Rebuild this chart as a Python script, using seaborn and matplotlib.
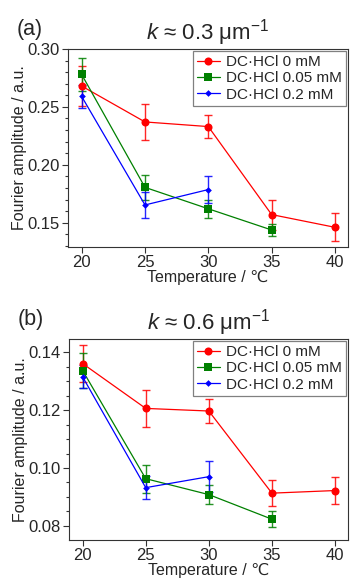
import numpy as np
import pandas as pd
import matplotlib
matplotlib.use("Agg")
import matplotlib.pyplot as plt
from matplotlib.ticker import MultipleLocator
import seaborn as sns

sns.set_style("ticks")
plt.rcParams['font.family'] = ['Liberation Sans', 'DejaVu Sans']
plt.rcParams['mathtext.fontset'] = 'custom'
plt.rcParams['mathtext.rm'] = 'Liberation Sans'
plt.rcParams['mathtext.it'] = 'Liberation Sans:italic'

temps = [20, 25, 30, 35, 40]
series_names = ["DC·HCl 0 mM", "DC·HCl 0.05 mM", "DC·HCl 0.2 mM"]

# panel (a) k ~ 0.3
a_0 = [0.268, 0.237, 0.233, 0.157, 0.146]
a_0_err = [0.0175, 0.0155, 0.0097, 0.013, 0.012]
a_005 = [0.278, 0.1805, 0.162, 0.1437]
a_005_err = [0.014, 0.011, 0.008, 0.005]
a_02 = [0.259, 0.1653, 0.1786]
a_02_err = [0.010, 0.011, 0.012]

# panel (b) k ~ 0.6
b_0 = [0.1361, 0.1206, 0.1197, 0.0913, 0.0922]
b_0_err = [0.0065, 0.0063, 0.004, 0.0046, 0.0048]
b_005 = [0.1337, 0.0963, 0.0908, 0.0823]
b_005_err = [0.006, 0.0048, 0.0033, 0.0028]
b_02 = [0.1315, 0.0932, 0.097]
b_02_err = [0.004, 0.004, 0.0053]

colors = ["#ff0000", "#008000", "#0000ff"]
markers = ["o", "s", "D"]
msizes = [5.8, 6.0, 3.4]

fig = plt.figure(figsize=(3.54, 5.83), dpi=100)
ax_a = fig.add_axes([68/354, 1-247/583, 280/354, 198/583])
ax_b = fig.add_axes([69/354, 1-540/583, 279/354, 201/583])

def draw(ax, data, ylim, major, minor, title, tag):
    for (vals, errs), name, c, m, ms in zip(data, series_names, colors, markers, msizes):
        x = temps[:len(vals)]
        df = pd.DataFrame({"T": x, "A": vals})
        ax.errorbar(x, vals, yerr=errs, fmt='none', ecolor=c, elinewidth=1.0,
                    capsize=2.6, capthick=1.0, alpha=0.85, zorder=2)
        sns.lineplot(data=df, x="T", y="A", ax=ax, color=c, marker=m,
                     markersize=ms, markeredgewidth=0, linewidth=0.9,
                     label=name, zorder=3)
    ax.set_xlim(18.92, 41.03)
    ax.set_ylim(*ylim)
    ax.set_xticks(temps)
    ax.yaxis.set_major_locator(MultipleLocator(major))
    ax.yaxis.set_minor_locator(MultipleLocator(minor))
    ax.tick_params(axis='both', which='major', labelsize=12, length=4.5,
                   width=0.8, color='#333333', pad=1.5)
    ax.tick_params(axis='y', which='minor', length=2.5, width=0.8, color='#333333')
    for s in ax.spines.values():
        s.set_color('#333333')
        s.set_linewidth(0.8)
    ax.set_xlabel("Temperature / ℃", fontsize=11.5, labelpad=0)
    ax.set_ylabel("Fourier amplitude / a.u.", fontsize=11.5, labelpad=0.5)
    ax.set_title(title, fontsize=16, pad=7)
    ax.text(-0.185, 1.045, tag, transform=ax.transAxes, fontsize=15.5,
            ha='left', va='bottom')
    leg = ax.legend(loc='upper right', fontsize=11, frameon=True, fancybox=False,
                    edgecolor='#808080', framealpha=1, borderpad=0.25,
                    labelspacing=0.15, handlelength=1.5, handletextpad=0.4,
                    borderaxespad=0.15)
    leg.get_frame().set_linewidth(0.9)

draw(ax_a, [(a_0, a_0_err), (a_005, a_005_err), (a_02, a_02_err)],
     (0.129, 0.30), 0.05, 0.01, r"$k$ ≈ 0.3 μm$^{-1}$", "(a)")
draw(ax_b, [(b_0, b_0_err), (b_005, b_005_err), (b_02, b_02_err)],
     (0.0751, 0.1446), 0.02, 0.005, r"$k$ ≈ 0.6 μm$^{-1}$", "(b)")

fig.savefig("out.png", dpi=100)
